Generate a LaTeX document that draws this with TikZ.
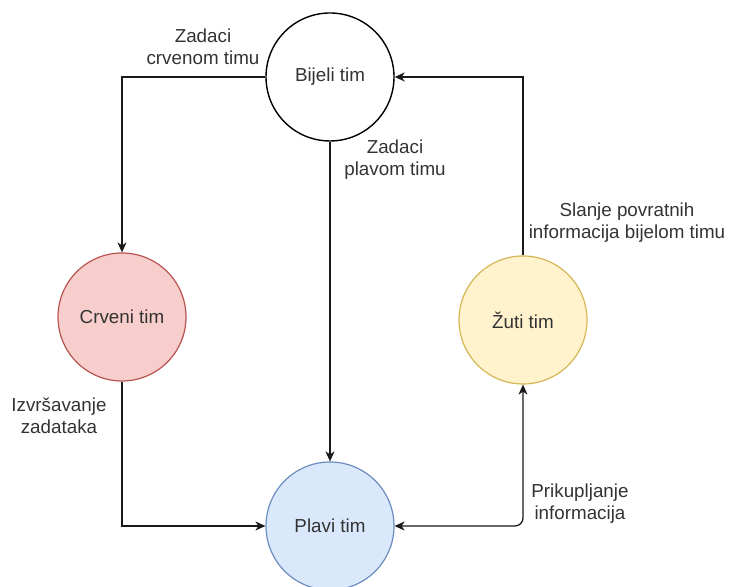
\documentclass[tikz,border=0pt]{standalone}
\usepackage{fontspec}
\setmainfont{Liberation Sans}
\usetikzlibrary{arrows.meta}
\definecolor{RedFill}{HTML}{F8CECC}
\definecolor{RedLine}{HTML}{B85450}
\definecolor{BlueFill}{HTML}{DAE8FC}
\definecolor{BlueLine}{HTML}{6C8EBF}
\definecolor{YellowFill}{HTML}{FFF2CC}
\definecolor{YellowLine}{HTML}{D6B656}
\definecolor{TextGray}{HTML}{333333}
\newcommand\teamfont{\fontsize{9.4}{11}\selectfont}

\begin{document}
\begin{tikzpicture}[x=0.5pt,y=0.5pt,>={Stealth[length=5pt,width=4.5pt,inset=1.5pt]},line cap=butt,line join=miter,
  team/.style={circle,draw,line width=0.6pt,minimum size=64pt,inner sep=0pt,font=\teamfont,text=TextGray},
  lbl/.style={align=center,font=\teamfont,text=TextGray,inner sep=0pt},
  flow/.style={line width=0.65pt,draw=black!90}]

% 1 unit = 1 px of the 729 x 587 canvas, origin bottom left
\useasboundingbox (0,0) rectangle (729,587);

% ---- TEAMS ----
\node[team,fill=white,draw=black,line width=0.7pt] (bijeli) at (330,510) {Bijeli tim};
\node[team,fill=RedFill,draw=RedLine] (crveni) at (122,270) {Crveni tim};
\node[team,fill=BlueFill,draw=BlueLine] (plavi) at (330,61) {Plavi tim};
\node[team,fill=YellowFill,draw=YellowLine] (zuti) at (523,267) {Žuti tim};

% ---- FLOWS ----
\draw[flow,->] (bijeli.west) -| (crveni.north);
\draw[flow,->] (bijeli.south) -- (plavi.north);
\draw[flow,->] (zuti.north) |- (bijeli.east);
\draw[flow,->] (crveni.south) |- (plavi.west);
\draw[flow,<->,rounded corners=4pt] (plavi.east) -| (zuti.south);

% ---- LABELS ----
\node[lbl] (l-crveni) at (203,540) {Zadaci\\crvenom timu};
\node[lbl] (l-plavi) at (395,427) {Zadaci\\plavom timu};
\node[lbl] (l-zuti) at (627,364) {Slanje povratnih\\informacija bijelom timu};
\node[lbl] (l-izvr) at (59,171) {Izvršavanje\\zadataka};
\node[lbl] (l-prik) at (580,83) {Prikupljanje\\informacija};

\end{tikzpicture}
\end{document}
